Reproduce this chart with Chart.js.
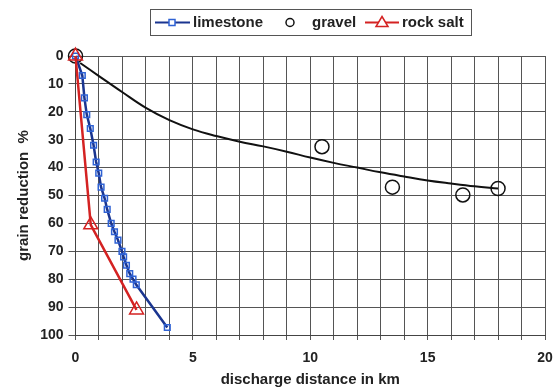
<!DOCTYPE html>
<html>
<head>
<meta charset="utf-8">
<script src="https://cdn.jsdelivr.net/npm/chart.js@4"></script>
<style>
html,body{margin:0;padding:0;background:#fff;}
#wrap{position:relative;width:559px;height:389px;}
</style>
</head>
<body>
<div id="wrap"><canvas id="c" width="559" height="389"></canvas></div>
<script>
// ---- data ----
const legendLabels = ["limestone", "gravel", "rock salt"];
const limestoneX = [0, 0.29, 0.38, 0.48, 0.63, 0.77, 0.88, 0.99, 1.09, 1.24, 1.35, 1.52, 1.66, 1.81, 1.98, 2.05, 2.17, 2.31, 2.45, 2.59, 3.91];
const limestoneY = [0, 7, 15, 21, 26, 32, 38, 42, 47, 51, 55, 60, 63, 66, 70, 72, 75, 78, 80, 82, 97.3];
const gravelX = [0, 10.5, 13.5, 16.5, 18.0];
const gravelY = [0, 32.5, 47, 49.8, 47.5];
const rockSaltX = [0, 0.65, 2.6];
const rockSaltY = [0, 60.5, 91];
const trendX = [0.2, 1, 2, 3, 4, 5, 6, 7, 8, 9, 10, 11, 12, 13, 14, 15, 16, 17, 18];
const trendY = [2.5, 7.2, 13, 18.6, 23, 26.3, 28.7, 30.7, 32.4, 34.3, 36.4, 38.3, 40, 41.7, 43.2, 44.6, 45.7, 46.7, 47.5];
const xTickLabels = [0, 5, 10, 15, 20];
const yTickLabels = [0, 10, 20, 30, 40, 50, 60, 70, 80, 90, 100];

const pts = (xs, ys) => xs.map((x, i) => ({x: x, y: ys[i]}));

const BLUE_LINE = '#1a3590';
const BLUE_MARK = '#2f62d4';
const RED = '#d42222';
const FONT = '"Liberation Sans", Arial, sans-serif';

const legendPlugin = {
  id: 'customLegend',
  afterDraw(chart) {
    const ctx = chart.ctx;
    ctx.save();
    ctx.strokeStyle = '#555';
    ctx.lineWidth = 1;
    ctx.strokeRect(150.5, 9.5, 321, 26);
    const cy = 22.5;
    ctx.font = 'bold 15px ' + FONT;
    ctx.fillStyle = '#222';
    ctx.textBaseline = 'middle';
    // limestone
    ctx.strokeStyle = BLUE_LINE; ctx.lineWidth = 2;
    ctx.beginPath(); ctx.moveTo(155, cy); ctx.lineTo(190, cy); ctx.stroke();
    ctx.strokeStyle = BLUE_MARK; ctx.lineWidth = 1.5; ctx.fillStyle = '#fff';
    ctx.fillRect(169, cy - 3, 6, 6); ctx.strokeRect(169, cy - 3, 6, 6);
    ctx.fillStyle = '#222';
    ctx.fillText(legendLabels[0], 193, cy);
    // gravel
    ctx.strokeStyle = '#111'; ctx.lineWidth = 1.5;
    ctx.beginPath(); ctx.arc(290, cy, 4, 0, Math.PI * 2); ctx.stroke();
    ctx.fillText(legendLabels[1], 312, cy);
    // rock salt
    ctx.strokeStyle = RED; ctx.lineWidth = 2;
    ctx.beginPath(); ctx.moveTo(365, cy); ctx.lineTo(399, cy); ctx.stroke();
    ctx.lineWidth = 1.5; ctx.fillStyle = '#fff';
    ctx.beginPath(); ctx.moveTo(382, cy - 6); ctx.lineTo(388, cy + 4); ctx.lineTo(376, cy + 4); ctx.closePath();
    ctx.fill(); ctx.stroke();
    ctx.fillStyle = '#222';
    ctx.fillText(legendLabels[2], 402, cy);
    ctx.restore();
  }
};

new Chart(document.getElementById('c'), {
  type: 'scatter',
  data: {
    datasets: [
      {
        label: legendLabels[0],
        data: pts(limestoneX, limestoneY),
        showLine: true,
        clip: false,
        borderColor: BLUE_LINE,
        borderWidth: 2.5,
        pointStyle: 'rect',
        pointRadius: 4,
        pointBorderColor: BLUE_MARK,
        pointBackgroundColor: 'rgba(255,255,255,0)',
        pointBorderWidth: 1.5,
        tension: 0,
        order: 2
      },
      {
        label: legendLabels[2],
        data: pts(rockSaltX, rockSaltY),
        showLine: true,
        clip: false,
        borderColor: RED,
        borderWidth: 2.5,
        pointStyle: 'triangle',
        pointRadius: 8,
        pointBorderColor: RED,
        pointBackgroundColor: 'rgba(255,255,255,0)',
        pointBorderWidth: 1.5,
        tension: 0,
        order: 1
      },
      {
        label: legendLabels[1],
        data: pts(gravelX, gravelY),
        showLine: false,
        clip: false,
        pointStyle: 'circle',
        pointRadius: 7,
        pointBorderColor: '#111',
        pointBackgroundColor: 'rgba(255,255,255,0)',
        pointBorderWidth: 1.5,
        order: 3
      },
      {
        label: 'trend',
        data: pts(trendX, trendY),
        showLine: true,
        borderColor: '#111',
        borderWidth: 2,
        pointRadius: 0,
        tension: 0.4,
        order: 4
      }
    ]
  },
  options: {
    responsive: false,
    animation: false,
    events: [],
    layout: {padding: {top: 56, right: 14, left: 0, bottom: 0}},
    plugins: {legend: {display: false}, tooltip: {enabled: false}},
    scales: {
      x: {
        type: 'linear',
        min: 0, max: 20,
        afterFit(s) { s.height = 54; s.paddingLeft = 0; s.paddingRight = 0; },
        afterBuildTicks(s) {
          const t = [];
          for (let v = 0; v <= 20; v++) t.push({value: v});
          s.ticks = t;
        },
        grid: {color: '#555', lineWidth: 1, tickLength: 5, drawTicks: true},
        border: {color: '#444', width: 1},
        ticks: {
          autoSkip: false,
          maxRotation: 0,
          padding: 10,
          color: '#222',
          font: {family: FONT, size: 14, weight: 'bold'},
          callback: (v) => xTickLabels.includes(v) ? String(v) : ''
        },
        title: {
          display: true,
          text: 'discharge distance in km',
          color: '#222',
          font: {family: FONT, size: 15, weight: 'bold'},
          padding: {top: 0, bottom: 0}
        }
      },
      y: {
        type: 'linear',
        reverse: true,
        min: 0, max: 100,
        afterFit(s) { s.width = 75.5; s.paddingTop = 0; s.paddingBottom = 0; },
        afterBuildTicks(s) { s.ticks = yTickLabels.map(v => ({value: v})); },
        grid: {color: '#555', lineWidth: 1, tickLength: 7},
        border: {color: '#444', width: 1},
        ticks: {
          padding: 5,
          color: '#222',
          font: {family: FONT, size: 14, weight: 'bold'}
        },
        title: {
          display: true,
          text: 'grain reduction  %',
          color: '#222',
          font: {family: FONT, size: 15, weight: 'bold'},
          padding: {top: 15, bottom: 0}
        }
      }
    }
  },
  plugins: [legendPlugin]
});
</script>
</body>
</html>
